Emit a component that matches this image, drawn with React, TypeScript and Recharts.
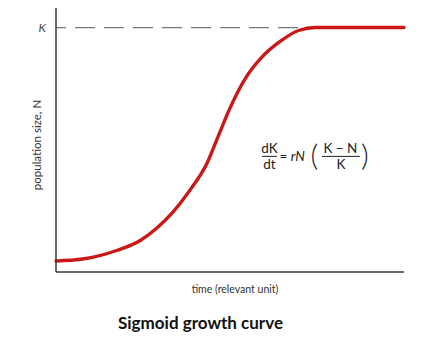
import { Line, LineChart, ReferenceDot, ReferenceLine, XAxis, YAxis } from "recharts";

// time (relevant unit)
const time = [0, 7.7, 17.4, 24.1, 29, 33.6, 38.5, 43.4, 46.6, 49.7, 54.6, 59.1, 64, 69.7, 74.6, 85, 100];
// population size N, as % of carrying capacity K
const population = [4.5, 5.3, 8.8, 12.8, 18, 24.5, 33.5, 44.5, 55.5, 66.1, 79.6, 87.8, 93.9, 98.8, 100, 100, 100];

const capacity = 100;
const yTicks = [capacity];
const dashEnd = 70;
const equationAt = { t: 74.4, n: 47.3 };

const data = time.map((t, i) => ({ t, n: population[i] }));

const font = "Lato, 'Open Sans', sans-serif";
const axisColor = "#3a3a3a";

function Equation({ viewBox }: any) {
  const cx = viewBox.x + viewBox.width / 2;
  const cy = viewBox.y + viewBox.height / 2;
  const s = { style: { fontFamily: font, fontSize: 13.5 }, fill: "#222" };
  const paren = { style: { fontFamily: font, fontSize: 30, fontWeight: 300 }, fill: "#222" };
  return (
    <g>
      <text x={cx - 45.5} y={cy - 3} textAnchor="middle" {...s}>dK</text>
      <line x1={cx - 53} x2={cx - 38} y1={cy} y2={cy} stroke="#222" strokeWidth={1} />
      <text x={cx - 45.5} y={cy + 12.5} textAnchor="middle" {...s}>dt</text>
      <text x={cx - 31.5} y={cy + 5} textAnchor="middle" {...s}>=</text>
      <text x={cx - 17} y={cy + 5} textAnchor="middle" {...s} fontStyle="italic">rN</text>
      <text x={cx - 0.5} y={cy + 10} textAnchor="middle" {...paren}>(</text>
      <text x={cx + 25.5} y={cy - 3} textAnchor="middle" {...s}>K − N</text>
      <line x1={cx + 7} x2={cx + 45} y1={cy} y2={cy} stroke="#222" strokeWidth={1} />
      <text x={cx + 26} y={cy + 12.5} textAnchor="middle" {...s}>K</text>
      <text x={cx + 50} y={cy + 10} textAnchor="middle" {...paren}>)</text>
    </g>
  );
}

export default function App() {
  return (
    <div style={{ position: "absolute", left: 0, top: 0, width: 430, height: 356, background: "#fff", fontFamily: font }}>
      <LineChart width={430} height={305} data={data} margin={{ top: 8, right: 26, bottom: 32, left: 55 }}>
        <XAxis
          dataKey="t"
          type="number"
          domain={[0, 100]}
          height={1}
          tick={false}
          tickLine={false}
          axisLine={{ stroke: axisColor, strokeWidth: 1.5 }}
          label={{
            content: ({ viewBox }: any) => (
              <text x={viewBox.x + viewBox.width / 2 + 5} y={viewBox.y + 21} textAnchor="middle"
                    style={{ fontFamily: font, fontSize: 10.5 }} fill="#333">
                time (relevant unit)
              </text>
            ),
          }}
        />
        <YAxis
          type="number"
          domain={[0, 108]}
          allowDataOverflow
          width={1}
          ticks={yTicks}
          tickFormatter={() => "K"}
          tickLine={false}
          tickSize={0}
          tickMargin={10}
          tick={{ style: { fontFamily: font, fontSize: 12, fontStyle: "italic" }, fill: "#444" }}
          axisLine={{ stroke: axisColor, strokeWidth: 1.5 }}
          label={{
            content: ({ viewBox }: any) => {
              const x = viewBox.x + viewBox.width - 15;
              const y = viewBox.y + viewBox.height / 2 + 5;
              return (
                <text x={x} y={y} transform={`rotate(-90, ${x}, ${y})`} textAnchor="middle"
                      style={{ fontFamily: font, fontSize: 11.5 }} fill="#333">
                  population size, N
                </text>
              );
            },
          }}
        />
        <ReferenceLine
          segment={[{ x: 0, y: capacity }, { x: dashEnd, y: capacity }]}
          stroke="#777"
          strokeWidth={1.3}
          strokeDasharray="20 9"
          strokeDashoffset={10}
        />
        <Line type="monotone" dataKey="n" stroke="#cc1717" strokeWidth={3.4} dot={false}
              isAnimationActive={false} strokeLinecap="round" />
        <ReferenceDot x={equationAt.t} y={equationAt.n} r={0} fill="none" stroke="none"
                      label={{ content: (p: any) => <Equation viewBox={p.viewBox} /> }} />
      </LineChart>
      <div style={{ position: "absolute", top: 313, left: 0, width: 401, textAlign: "center",
                    fontWeight: 700, fontSize: 17, lineHeight: "20px", color: "#111" }}>
        Sigmoid growth curve
      </div>
    </div>
  );
}
